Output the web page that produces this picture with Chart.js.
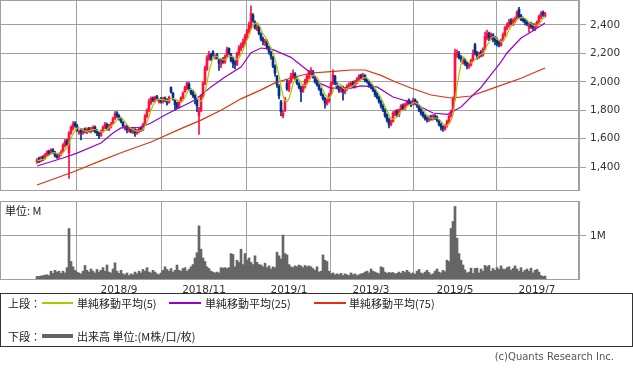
<!DOCTYPE html>
<html>
<head>
<meta charset="utf-8">
<script src="https://cdn.jsdelivr.net/npm/chart.js@4.4.0/dist/chart.umd.min.js"></script>
<style>
  body{margin:0;background:#fff;width:633px;height:373px;position:relative;overflow:hidden;
       font-family:"Noto Sans CJK JP","DejaVu Sans",sans-serif;color:#222;}
  canvas{position:absolute;left:0;}
  #price{top:0;}
  #vol{top:196px;}
  .txt{position:absolute;font-size:11px;line-height:12px;white-space:nowrap;}
  #legend{position:absolute;left:0;top:293px;width:631px;height:52px;border:1px solid #333;}
  .sw{position:absolute;height:2px;}
</style>
</head>
<body>
<canvas id="price" width="633" height="191"></canvas>
<canvas id="vol" width="633" height="100"></canvas>
<div class="txt" style="left:5px;top:204px;">単位: M</div>
<div id="legend">
  <div class="txt" style="left:7px;top:3px;">上段：</div>
  <div class="sw" style="left:41px;top:8px;width:31px;background:#a8c800;"></div>
  <div class="txt" style="left:76px;top:3px;">単純移動平均(5)</div>
  <div class="sw" style="left:168px;top:8px;width:32px;background:#9900cc;"></div>
  <div class="txt" style="left:204px;top:3px;">単純移動平均(25)</div>
  <div class="sw" style="left:313px;top:8px;width:32px;background:#dd3311;"></div>
  <div class="txt" style="left:348px;top:3px;">単純移動平均(75)</div>
  <div class="txt" style="left:7px;top:36px;">下段：</div>
  <div class="sw" style="left:41px;top:40px;width:31px;height:4px;background:#666;"></div>
  <div class="txt" style="left:76px;top:36px;">出来高 単位:(M株/口/枚)</div>
</div>
<div class="txt" style="right:19px;top:351px;color:#555;font-family:'DejaVu Sans',sans-serif;font-size:10px;">(c)Quants Research Inc.</div>
<script>
// 日足データ (i=18 から 1日ずつ)
const firstDay = 18;
const opens = [
  1435,1460,1440,1470,1460,1485,1510,1495,1520,1500,
  1485,1470,1490,1510,1550,1585,1500,1640,1670,1710,
  1690,1640,1660,1640,1665,1645,1670,1650,1660,1680,
  1655,1640,1620,1650,1675,1700,1665,1685,1705,1740,
  1780,1760,1745,1715,1670,1685,1655,1670,1645,1665,
  1640,1650,1675,1665,1700,1755,1800,1850,1885,1865,
  1895,1860,1880,1860,1885,1870,1855,1960,1920,1870,
  1850,1825,1860,1885,1930,1955,1985,1945,1925,1905,
  1870,1760,1800,1900,1990,2090,2160,2190,2210,2170,
  2190,2150,2120,2160,2140,2180,2235,2190,2160,2140,
  2120,2195,2230,2250,2270,2310,2350,2380,2470,2420,
  2370,2385,2335,2300,2270,2285,2240,2205,2170,2110,
  2040,1970,1860,1760,1800,1990,1945,2000,2030,2055,
  2020,1985,1960,1935,1965,2000,2030,2060,2070,2030,
  2000,1975,1945,1905,1880,1845,1865,1920,1990,2040,
  1985,1960,1935,1960,1925,1950,1965,1975,1995,1965,
  1995,2015,2045,2025,2045,2015,1995,1980,1965,1940,
  1915,1890,1860,1830,1800,1765,1735,1700,1720,1770,
  1795,1765,1800,1835,1810,1835,1870,1855,1840,1875,
  1855,1835,1805,1785,1760,1745,1730,1755,1740,1760,
  1750,1730,1700,1685,1665,1690,1720,1760,1790,1890,
  2190,2200,2175,2140,2155,2135,2105,2120,2150,2260,
  2205,2175,2210,2190,2230,2310,2340,2305,2330,2310,
  2300,2280,2255,2290,2330,2375,2395,2430,2405,2425,
  2450,2510,2465,2445,2435,2425,2380,2410,2400,2375,
  2395,2420,2455,2490,2460
];
const closes = [
  1450,1440,1465,1455,1490,1505,1495,1520,1500,1480,
  1470,1490,1500,1555,1580,1560,1640,1680,1700,1690,
  1660,1650,1640,1660,1650,1665,1655,1670,1680,1650,
  1640,1620,1650,1680,1700,1670,1690,1700,1740,1775,
  1760,1740,1720,1690,1680,1660,1670,1650,1660,1640,
  1655,1670,1660,1700,1760,1800,1860,1880,1870,1890,
  1880,1870,1860,1880,1870,1850,1890,1930,1880,1840,
  1820,1860,1890,1920,1960,1990,1950,1920,1900,1880,
  1830,1800,1900,1990,2100,2170,2200,2160,2190,2180,
  2170,2130,2150,2140,2180,2230,2200,2150,2130,2120,
  2200,2240,2260,2280,2320,2360,2400,2480,2430,2380,
  2390,2340,2300,2280,2290,2240,2210,2180,2110,2060,
  1980,1900,1790,1780,1880,1950,2000,2040,2060,2030,
  1990,1960,1930,1970,2010,2040,2070,2080,2030,2000,
  1980,1950,1910,1880,1850,1870,1910,1990,2050,1990,
  1960,1940,1960,1930,1950,1970,1985,1990,1970,2000,
  2020,2040,2030,2050,2010,2000,1970,1960,1940,1910,
  1890,1860,1830,1800,1760,1730,1700,1720,1780,1790,
  1770,1800,1830,1810,1840,1860,1850,1840,1870,1850,
  1830,1800,1780,1760,1740,1730,1750,1740,1760,1745,
  1730,1700,1680,1670,1690,1720,1760,1790,1880,2200,
  2210,2170,2160,2150,2130,2110,2120,2150,2200,2200,
  2180,2200,2190,2230,2320,2340,2310,2330,2300,2290,
  2270,2260,2290,2330,2380,2400,2420,2410,2430,2440,
  2490,2460,2440,2430,2420,2410,2400,2390,2380,2400,
  2420,2460,2480,2470,2480
];
const highs = [
  1460,1470,1475,1480,1495,1515,1520,1530,1530,1510,
  1495,1500,1515,1565,1595,1595,1650,1690,1720,1720,
  1700,1660,1670,1670,1675,1675,1680,1680,1690,1690,
  1665,1645,1660,1690,1715,1710,1700,1715,1750,1790,
  1790,1770,1750,1720,1695,1695,1680,1680,1670,1670,
  1665,1680,1685,1710,1770,1810,1880,1895,1895,1900,
  1905,1880,1890,1890,1895,1880,1900,1965,1925,1875,
  1855,1865,1895,1930,1970,2000,1995,1950,1935,1910,
  1875,1820,1910,2000,2110,2185,2215,2200,2220,2190,
  2200,2160,2160,2170,2190,2245,2240,2200,2170,2150,
  2210,2255,2275,2300,2335,2370,2420,2535,2480,2430,
  2400,2395,2345,2315,2300,2295,2250,2215,2180,2120,
  2045,1980,1870,1800,1890,2015,2010,2060,2085,2065,
  2030,1995,1970,1980,2020,2050,2080,2100,2080,2040,
  2010,1985,1955,1915,1890,1880,1920,2000,2085,2045,
  1995,1970,1970,1970,1960,1980,1995,2000,2005,2010,
  2030,2050,2055,2060,2050,2025,2005,1985,1975,1945,
  1925,1900,1870,1840,1810,1775,1745,1730,1790,1800,
  1805,1810,1840,1845,1850,1870,1880,1865,1885,1880,
  1865,1840,1815,1790,1770,1755,1760,1765,1770,1770,
  1760,1735,1710,1690,1700,1730,1770,1800,1895,2230,
  2225,2215,2185,2165,2165,2140,2130,2160,2225,2270,
  2215,2210,2220,2240,2350,2365,2350,2345,2340,2320,
  2310,2290,2300,2345,2390,2415,2440,2445,2445,2455,
  2500,2525,2475,2455,2445,2435,2415,2420,2410,2410,
  2430,2470,2495,2500,2490
];
const lows = [
  1425,1430,1435,1445,1455,1480,1485,1490,1495,1470,
  1460,1460,1480,1505,1540,1550,1320,1630,1660,1680,
  1650,1630,1590,1630,1640,1635,1645,1640,1650,1640,
  1620,1600,1615,1645,1670,1660,1655,1675,1700,1735,
  1750,1730,1710,1680,1660,1640,1645,1640,1635,1615,
  1630,1640,1650,1655,1695,1750,1790,1840,1860,1855,
  1870,1850,1850,1850,1860,1835,1850,1920,1870,1800,
  1810,1815,1855,1880,1925,1945,1940,1910,1890,1845,
  1790,1630,1790,1890,1980,2080,2150,2150,2180,2160,
  2160,2080,2100,2130,2130,2175,2190,2140,2100,2090,
  2115,2185,2220,2240,2260,2300,2340,2370,2420,2370,
  2360,2330,2290,2260,2255,2230,2195,2160,2100,2040,
  1960,1880,1760,1745,1790,1940,1930,1990,2020,2015,
  1980,1950,1860,1925,1955,1990,2020,2050,2025,1990,
  1970,1940,1900,1870,1815,1835,1855,1910,1980,1980,
  1950,1925,1925,1870,1915,1940,1955,1965,1960,1955,
  1985,2005,2020,2015,2000,1990,1960,1950,1930,1895,
  1880,1850,1815,1790,1750,1715,1675,1690,1715,1760,
  1755,1755,1795,1800,1800,1830,1840,1825,1835,1840,
  1820,1790,1765,1750,1730,1715,1720,1730,1730,1735,
  1720,1690,1660,1650,1660,1680,1710,1750,1780,1870,
  2170,2160,2140,2125,2115,2090,2095,2110,2140,2190,
  2160,2165,2175,2180,2225,2295,2290,2295,2280,2260,
  2250,2245,2250,2285,2320,2365,2385,2400,2395,2415,
  2440,2450,2430,2420,2400,2395,2350,2375,2360,2360,
  2385,2410,2445,2460,2455
];
// 出来高 (M)
const volumes = [
  0.08,0.08,0.09,0.10,0.11,0.12,0.10,0.20,0.15,0.22,
  0.18,0.20,0.15,0.20,0.16,0.28,1.17,0.42,0.30,0.22,
  0.18,0.16,0.14,0.20,0.33,0.22,0.18,0.25,0.20,0.16,
  0.24,0.18,0.22,0.28,0.20,0.34,0.18,0.16,0.25,0.39,
  0.20,0.15,0.22,0.14,0.12,0.16,0.10,0.14,0.12,0.18,
  0.14,0.20,0.16,0.24,0.20,0.28,0.18,0.16,0.22,0.18,
  0.14,0.12,0.16,0.22,0.30,0.24,0.20,0.26,0.18,0.22,
  0.34,0.22,0.20,0.26,0.28,0.20,0.24,0.30,0.35,0.50,
  0.62,1.23,0.70,0.50,0.42,0.30,0.26,0.20,0.18,0.16,
  0.18,0.16,0.28,0.27,0.28,0.26,0.28,0.60,0.58,0.30,
  0.45,0.40,0.70,0.35,0.60,0.45,0.50,0.40,0.35,0.55,
  0.40,0.35,0.34,0.30,0.38,0.28,0.32,0.25,0.30,0.28,
  0.63,0.55,0.48,1.02,0.60,0.57,0.35,0.30,0.28,0.32,
  0.30,0.34,0.32,0.28,0.33,0.30,0.32,0.30,0.26,0.22,
  0.30,0.18,0.20,0.57,0.45,0.42,0.20,0.14,0.16,0.12,
  0.14,0.12,0.15,0.10,0.14,0.12,0.10,0.16,0.12,0.14,
  0.10,0.12,0.14,0.15,0.18,0.20,0.16,0.25,0.20,0.18,
  0.16,0.14,0.30,0.28,0.18,0.15,0.17,0.16,0.17,0.14,
  0.15,0.18,0.15,0.20,0.17,0.22,0.18,0.14,0.16,0.13,
  0.20,0.24,0.16,0.14,0.18,0.22,0.17,0.12,0.14,0.20,
  0.25,0.18,0.16,0.22,0.19,0.45,0.42,1.17,1.33,1.67,
  0.95,0.60,0.45,0.34,0.23,0.16,0.18,0.27,0.15,0.26,
  0.27,0.16,0.25,0.20,0.33,0.30,0.33,0.20,0.26,0.22,
  0.28,0.24,0.32,0.25,0.24,0.28,0.30,0.22,0.26,0.32,
  0.25,0.20,0.28,0.18,0.22,0.25,0.20,0.27,0.16,0.22,
  0.24,0.18,0.10,0.08,0.09
];
// 移動平均 25 / 75 (チャートから読んだ値, [日, 値])
const ma25Pts = [
  [18,1407],[31,1463],[38,1498],[50,1569],[56,1640],[60,1675],[70,1680],[75,1710],
  [82,1766],[90,1823],[97,1872],[105,1964],[112,2034],[120,2104],[125,2205],[130,2238],
  [136,2226],[145,2172],[153,2083],[160,1985],[165,1956],[175,1956],[180,1971],[188,1964],
  [196,1893],[206,1851],[216,1780],[223,1770],[230,1823],[235,1893],[240,1960],[245,2050],
  [250,2140],[253,2203],[260,2308],[265,2350],[272,2414]
];
const ma75Pts = [
  [18,1273],[36,1365],[50,1445],[60,1500],[75,1576],[90,1670],[100,1730],[110,1800],
  [120,1880],[130,1943],[137,1992],[145,2027],[155,2062],[165,2072],[175,2083],[182,2083],
  [190,2045],[197,2000],[205,1956],[215,1907],[225,1886],[235,1900],[245,1950],[260,2025],
  [272,2097]
];
// 月の目盛 (日の位置とラベル)
const monthPos = [59, 101.5, 144, 185, 227, 268];
const monthLabels = ['2018/9', '2018/11', '2019/1', '2019/3', '2019/5', '2019/7'];
const priceTicks = [1400, 1600, 1800, 2000, 2200, 2400];

const UP = '#ff1040', DOWN = '#00308f';
const GRID = '#a0a0a0';
const FONT = {family: 'DejaVu Sans', size: 10.5};

const days = closes.map((c, k) => firstDay + k);
const candleColor = closes.map((c, k) => c >= opens[k] ? UP : DOWN);
const ma5 = closes.map((c, k) => {
  const win = closes.slice(Math.max(0, k - 4), k + 1);
  return {x: days[k], y: win.reduce((a, b) => a + b, 0) / win.length};
});

// パネルの枠線
const frame = {
  id: 'frame',
  afterDraw(chart){
    const a = chart.chartArea, ctx = chart.ctx;
    ctx.save();
    ctx.strokeStyle = GRID;
    ctx.lineWidth = 1;
    ctx.strokeRect(a.left + 0.5, a.top + 0.5, a.right - a.left - 1, a.bottom - a.top - 1);
    ctx.restore();
  }
};

// 目盛ラベルのはみ出し分の余白を消す
const noPad = s => { s.paddingTop = 0; s.paddingBottom = 0; s.paddingLeft = 0; s.paddingRight = 0; };

const xScale = (showLabels, h) => ({
  type: 'linear', min: -0.5, max: 289.5, offset: false,
  afterBuildTicks: s => { s.ticks = monthPos.map(v => ({value: v})); },
  afterFit: s => { s.height = h; noPad(s); },
  grid: {color: GRID, drawTicks: false},
  border: {display: false},
  ticks: {display: showLabels, padding: 4, color: '#333', font: FONT,
          autoSkip: false, maxRotation: 0,
          callback: (v, i) => monthLabels[i]}
});

new Chart(document.getElementById('price'), {
  type: 'bar',
  data: {
    datasets: [
      {type: 'line', data: ma5, borderColor: '#a8c800', borderWidth: 1.2, pointRadius: 0, order: 0},
      {type: 'line', data: ma25Pts.map(p => ({x: p[0], y: p[1]})), borderColor: '#9900cc', borderWidth: 1.2, pointRadius: 0, order: 0},
      {type: 'line', data: ma75Pts.map(p => ({x: p[0], y: p[1]})), borderColor: '#dd3311', borderWidth: 1.2, pointRadius: 0, order: 0},
      {data: closes.map((c, k) => ({x: days[k], y: [opens[k], c]})), backgroundColor: candleColor,
       barThickness: 2, grouped: false, order: 1},
      {data: lows.map((l, k) => ({x: days[k], y: [l, highs[k]]})), backgroundColor: candleColor,
       barThickness: 1, grouped: false, order: 2}
    ]
  },
  options: {
    responsive: false, animation: false, devicePixelRatio: 1,
    layout: {padding: 0},
    plugins: {legend: {display: false}, tooltip: {enabled: false}},
    scales: {
      x: xScale(false, 0),
      y: {
        position: 'right', min: 1231, max: 2576,
        afterBuildTicks: s => { s.ticks = priceTicks.map(v => ({value: v})); },
        afterFit: s => { s.width = 53; noPad(s); },
        grid: {color: GRID, tickLength: 6},
        border: {display: false},
        ticks: {padding: 4, color: '#333', font: FONT,
                callback: v => v.toLocaleString('en-US')}
      }
    }
  },
  plugins: [frame]
});

new Chart(document.getElementById('vol'), {
  type: 'bar',
  data: {
    datasets: [
      {data: volumes.map((v, k) => ({x: days[k], y: v})), backgroundColor: '#666666',
       barThickness: 2, grouped: false}
    ]
  },
  options: {
    responsive: false, animation: false, devicePixelRatio: 1,
    layout: {padding: {top: 5, left: 0, right: 0, bottom: 0}},
    plugins: {legend: {display: false}, tooltip: {enabled: false}},
    scales: {
      x: xScale(true, 16),
      y: {
        position: 'right', min: 0, max: 1.795,
        afterBuildTicks: s => { s.ticks = [{value: 1}]; },
        afterFit: s => { s.width = 53; noPad(s); },
        grid: {color: GRID, tickLength: 6},
        border: {display: false},
        ticks: {padding: 4, color: '#333', font: FONT, callback: () => '1M'}
      }
    }
  },
  plugins: [frame]
});
</script>
</body>
</html>
